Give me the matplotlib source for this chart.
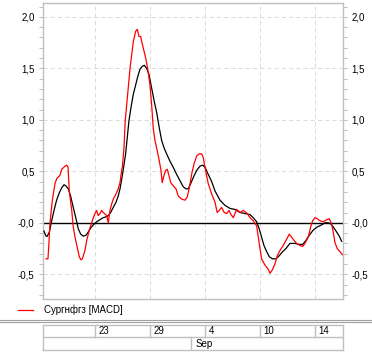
import matplotlib
matplotlib.use("Agg")
import matplotlib.pyplot as plt
from matplotlib.lines import Line2D
from matplotlib.ticker import FixedLocator, FixedFormatter, MultipleLocator

# ---------------- data ----------------
series_name = "Сургнфгз [MACD]"

# x in trading-day units (0 = 23 Aug)
macd_t = [-3.56, -3.42, -3.35, -3.27, -3.10, -2.91, -2.78, -2.55, -2.42, -2.18, -2.06, -1.96,
          -1.87, -1.69, -1.58, -1.45, -1.29, -1.14, -1.02, -0.92, -0.73, -0.60, -0.41, -0.24,
          -0.12, 0.00, 0.12, 0.24, 0.36, 0.49, 0.60, 0.78, 0.85, 0.97, 1.09, 1.21, 1.33, 1.53,
          1.69, 1.82, 1.94, 1.99, 2.11, 2.20, 2.31, 2.42, 2.55, 2.67, 2.79, 2.96, 3.08, 3.20,
          3.32, 3.40, 3.51, 3.69, 3.83, 4.00, 4.12, 4.24, 4.36, 4.53, 4.68, 4.80, 4.89, 5.02,
          5.14, 5.26, 5.38, 5.51, 5.69, 5.89, 6.06, 6.31, 6.55, 6.71, 6.86, 7.03, 7.20, 7.40,
          7.59, 7.76, 7.88, 8.00, 8.24, 8.49, 8.73, 8.89, 9.04, 9.21, 9.40, 9.58, 9.75, 9.89,
          10.06, 10.31, 10.55, 10.79, 11.08, 11.27, 11.51, 11.76, 11.88, 12.00, 12.12, 12.36,
          12.60, 12.73, 12.89, 13.09, 13.26, 13.45, 13.69, 13.94, 14.13, 14.31, 14.47, 14.67,
          14.91, 15.11, 15.27, 15.51, 15.69, 15.83, 16.00, 16.17, 16.36, 16.60, 16.85, 17.04,
          17.21, 17.33, 17.45, 17.62, 17.82, 17.99]
macd_v = [-0.35, -0.35, -0.20, 0.00, 0.22, 0.38, 0.43, 0.46, 0.52, 0.55, 0.56, 0.54,
          0.31, 0.12, -0.04, -0.14, -0.24, -0.33, -0.36, -0.35, -0.27, -0.17, -0.07, 0.00,
          0.05, 0.09, 0.12, 0.07, 0.09, 0.12, 0.10, 0.08, 0.07, 0.00, 0.12, 0.18, 0.23, 0.28,
          0.33, 0.39, 0.51, 0.54, 0.73, 0.99, 1.15, 1.31, 1.50, 1.63, 1.76, 1.86, 1.88, 1.81,
          1.81, 1.76, 1.70, 1.60, 1.50, 1.34, 1.15, 0.92, 0.80, 0.70, 0.60, 0.51, 0.39, 0.46,
          0.51, 0.52, 0.46, 0.39, 0.36, 0.33, 0.26, 0.23, 0.22, 0.25, 0.34, 0.47, 0.57, 0.65,
          0.67, 0.67, 0.63, 0.54, 0.38, 0.28, 0.20, 0.10, 0.12, 0.15, 0.10, 0.09, 0.12, 0.08,
          0.05, 0.13, 0.10, 0.12, 0.09, 0.05, 0.02, -0.03, -0.14, -0.25, -0.35, -0.41,
          -0.45, -0.49, -0.46, -0.40, -0.32, -0.27, -0.22, -0.16, -0.11, -0.14, -0.17, -0.20,
          -0.22, -0.23, -0.20, -0.14, -0.04, 0.02, 0.05, 0.04, 0.02, 0.01, 0.03, 0.04,
          -0.01, -0.09, -0.19, -0.25, -0.28, -0.31]

signal_t = [-3.71, -3.56, -3.47, -3.32, -3.15, -2.98, -2.79, -2.60, -2.42, -2.25, -2.13, -1.94,
            -1.77, -1.58, -1.38, -1.21, -1.04, -0.85, -0.65, -0.49, -0.31, -0.12, 0.12, 0.36,
            0.60, 0.85, 0.97, 1.14, 1.33, 1.53, 1.69, 1.82, 1.94, 2.06, 2.23, 2.35, 2.47, 2.62,
            2.79, 2.96, 3.11, 3.27, 3.44, 3.59, 3.76, 3.93, 4.12, 4.31, 4.49, 4.68, 4.85, 5.02,
            5.21, 5.45, 5.69, 5.94, 6.18, 6.42, 6.62, 6.79, 6.96, 7.15, 7.40, 7.64, 7.83, 8.00,
            8.24, 8.49, 8.73, 9.09, 9.45, 9.82, 10.18, 10.55, 10.91, 11.27, 11.51, 11.76, 11.95,
            12.12, 12.29, 12.49, 12.68, 12.92, 13.16, 13.40, 13.65, 13.89, 14.18, 14.55, 14.86,
            15.11, 15.35, 15.59, 15.88, 16.17, 16.49, 16.73, 16.97, 17.14, 17.33, 17.58, 17.77,
            17.94]
signal_v = [-0.08, -0.13, -0.13, -0.09, 0.02, 0.12, 0.22, 0.29, 0.34, 0.37, 0.36, 0.33,
            0.26, 0.15, 0.04, -0.06, -0.11, -0.13, -0.12, -0.09, -0.05, -0.02, 0.01, 0.03,
            0.05, 0.06, 0.07, 0.10, 0.15, 0.20, 0.26, 0.33, 0.42, 0.52, 0.67, 0.83, 0.99, 1.12,
            1.25, 1.34, 1.42, 1.49, 1.52, 1.53, 1.50, 1.44, 1.31, 1.18, 1.07, 0.92, 0.80, 0.73,
            0.67, 0.60, 0.54, 0.47, 0.41, 0.35, 0.33, 0.33, 0.38, 0.44, 0.51, 0.55, 0.56, 0.54,
            0.47, 0.40, 0.31, 0.22, 0.17, 0.14, 0.13, 0.10, 0.09, 0.08, 0.05, 0.01, -0.06,
            -0.14, -0.22, -0.28, -0.33, -0.35, -0.35, -0.32, -0.28, -0.25, -0.20, -0.20, -0.21,
            -0.21, -0.17, -0.12, -0.07, -0.04, -0.02, 0.00, 0.00, -0.01, -0.04, -0.09, -0.13,
            -0.18]

date_ticks = [0, 4, 8, 12, 16]
date_labels = ["23", "29", "4", "10", "14"]
month_start = 7.0
month_label = "Sep"

y_ticks = [-0.5, 0.0, 0.5, 1.0, 1.5, 2.0]
y_tick_labels = ["-0,5", "-0,0", "0,5", "1,0", "1,5", "2,0"]

# ---------------- style ----------------
plt.rcParams['font.family'] = ['Liberation Sans', 'DejaVu Sans']
plt.rcParams['lines.scale_dashes'] = False
FS = 7
GRAY = "#c0c0c0"
GRID = "#dcdcdc"

W, H = 372, 357
fig = plt.figure(figsize=(W / 100, H / 100), dpi=100)
fig.patch.set_facecolor("white")

xlim = (-3.78, 18.04)
ax = fig.add_axes([43 / W, (H - 299) / H, 300 / W, 296 / H])
ax.set_xlim(*xlim)
ax.set_ylim(-0.74, 2.135)

for s in ax.spines.values():
    s.set_color(GRAY)
    s.set_linewidth(1.0)

ax.yaxis.set_major_locator(FixedLocator(y_ticks))
ax.yaxis.set_major_formatter(FixedFormatter(y_tick_labels))
ax.yaxis.set_minor_locator(MultipleLocator(0.1))
ax.tick_params(axis='y', which='both', left=True, right=True, labelleft=True,
               labelright=True, direction='out', color=GRAY, width=0.75,
               length=3, labelsize=FS, pad=3, labelcolor='black')
ax.xaxis.set_major_locator(FixedLocator(date_ticks))
ax.tick_params(axis='x', which='both', bottom=False, top=False, labelbottom=False)

ax.grid(True, which='major', color=GRID, linestyle=(0, (3, 2.2)), linewidth=0.75)
ax.axhline(0, color='black', linewidth=1.0, zorder=2)

ax.plot(signal_t, signal_v, color='black', linewidth=0.9, zorder=3)
ax.plot(macd_t, macd_v, color='#ff0000', linewidth=0.9, zorder=4)

# legend row
ly = 1 - 310 / H
fig.add_artist(Line2D([18 / W, 33 / W], [ly, ly], transform=fig.transFigure,
                      color='#ff0000', linewidth=0.9))
fig.text(44 / W, ly, series_name, fontsize=FS, va='center', ha='left', color='black')

# double separator
for yy in (319.5, 322.2):
    fig.add_artist(Line2D([0, 1], [1 - yy / H, 1 - yy / H], transform=fig.transFigure,
                          color='#a0a0a0', linewidth=0.8))

# date panel
bx = fig.add_axes([43 / W, (H - 350) / H, 300 / W, (350 - 324.7) / H])
bx.set_xlim(*xlim)
bx.set_ylim(0, 2)
bx.set_xticks([])
bx.set_yticks([])
for s in bx.spines.values():
    s.set_color(GRAY)
    s.set_linewidth(1.0)
bx.axhline(1, color=GRAY, linewidth=1.0)
for t, lab in zip(date_ticks, date_labels):
    bx.axvline(t, ymin=0.5, ymax=1, color=GRAY, linewidth=1.0)
    bx.annotate(lab, (t, 1.5), xytext=(2.5, 0), textcoords='offset points',
                fontsize=FS, va='center', ha='left', color='black')
bx.axvline(month_start, ymin=0, ymax=0.5, color=GRAY, linewidth=1.0)
bx.annotate(month_label, (month_start, 0.5), xytext=(3, 0), textcoords='offset points',
            fontsize=FS, va='center', ha='left', color='black')

fig.savefig("out.png", dpi=100, facecolor='white')
